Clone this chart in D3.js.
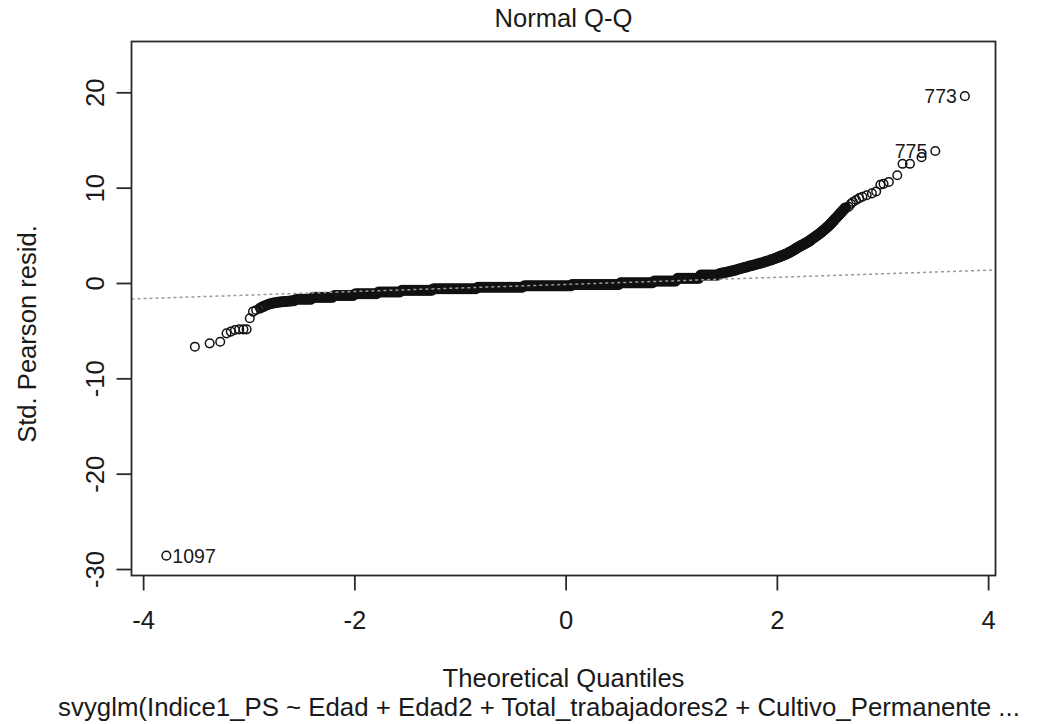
<!DOCTYPE html>
<html>
<head>
<meta charset="utf-8">
<script src="https://cdn.jsdelivr.net/npm/d3@7"></script>
<style>
  body { margin: 0; background: #fff; }
  text { font-family: "Liberation Sans", Arial, sans-serif; fill: #1a1a1a; }
</style>
</head>
<body>
<div id="chart"></div>
<script>
var width = 1049;
var height = 724;

// axis ticks
var xTicks = [-4, -2, 0, 2, 4];
var yTicks = [-30, -20, -10, 0, 10, 20];

// [theoretical quantile, std. pearson residual]
var lowerTail = [
  [-3.78, -28.6], [-3.51, -6.68], [-3.37, -6.33], [-3.27, -6.16], [-3.21, -5.28],
  [-3.17, -5.10], [-3.13, -4.93], [-3.09, -4.86], [-3.05, -4.86], [-3.02, -4.86],
  [-2.99, -3.70], [-2.96, -3.00], [-2.93, -2.83]
];

// the dense part, where the circles merge into a solid band
var band = [
  [-2.89, -2.62], [-2.87, -2.50], [-2.85, -2.40], [-2.83, -2.30], [-2.81, -2.22], [-2.79, -2.16],
  [-2.77, -2.11], [-2.75, -2.07], [-2.73, -2.03], [-2.71, -2.00], [-2.69, -1.97], [-2.67, -1.95],
  [-2.65, -1.93], [-2.63, -1.91], [-2.61, -1.89], [-2.59, -1.87], [-2.57, -1.85],
  [-2.55, -1.70], [-2.53, -1.70], [-2.51, -1.70], [-2.49, -1.70], [-2.47, -1.70], [-2.45, -1.70],
  [-2.43, -1.70], [-2.41, -1.70],
  [-2.39, -1.50], [-2.37, -1.50], [-2.35, -1.50], [-2.33, -1.50], [-2.31, -1.50], [-2.29, -1.50],
  [-2.27, -1.50], [-2.25, -1.50], [-2.23, -1.50], [-2.21, -1.50],
  [-2.19, -1.30], [-2.17, -1.30], [-2.15, -1.30], [-2.13, -1.30], [-2.11, -1.30], [-2.09, -1.30],
  [-2.07, -1.30], [-2.05, -1.30], [-2.03, -1.30], [-2.01, -1.30],
  [-1.99, -1.12], [-1.97, -1.12], [-1.95, -1.12], [-1.93, -1.12], [-1.91, -1.12], [-1.89, -1.12],
  [-1.87, -1.12], [-1.85, -1.12], [-1.83, -1.12], [-1.81, -1.12], [-1.79, -1.12],
  [-1.77, -0.94], [-1.75, -0.94], [-1.73, -0.94], [-1.71, -0.94], [-1.69, -0.94], [-1.67, -0.94],
  [-1.65, -0.94], [-1.63, -0.94], [-1.61, -0.94], [-1.59, -0.94], [-1.57, -0.94],
  [-1.55, -0.77], [-1.53, -0.77], [-1.51, -0.77], [-1.49, -0.77], [-1.47, -0.77], [-1.45, -0.77],
  [-1.43, -0.77], [-1.41, -0.77], [-1.39, -0.77], [-1.37, -0.77], [-1.35, -0.77], [-1.33, -0.77],
  [-1.31, -0.77], [-1.29, -0.77], [-1.27, -0.77],
  [-1.25, -0.60], [-1.23, -0.60], [-1.21, -0.60], [-1.19, -0.60], [-1.17, -0.60], [-1.15, -0.60],
  [-1.13, -0.60], [-1.11, -0.60], [-1.09, -0.60], [-1.07, -0.60], [-1.05, -0.60], [-1.03, -0.60],
  [-1.01, -0.60], [-0.99, -0.60], [-0.97, -0.60], [-0.95, -0.60], [-0.93, -0.60], [-0.91, -0.60],
  [-0.89, -0.60], [-0.87, -0.60], [-0.85, -0.60],
  [-0.83, -0.44], [-0.81, -0.44], [-0.79, -0.44], [-0.77, -0.44], [-0.75, -0.44], [-0.73, -0.44],
  [-0.71, -0.44], [-0.69, -0.44], [-0.67, -0.44], [-0.65, -0.44], [-0.63, -0.44], [-0.61, -0.44],
  [-0.59, -0.44], [-0.57, -0.44], [-0.55, -0.44], [-0.53, -0.44], [-0.51, -0.44], [-0.49, -0.44],
  [-0.47, -0.44], [-0.45, -0.44], [-0.43, -0.44], [-0.41, -0.44],
  [-0.39, -0.30], [-0.37, -0.30], [-0.35, -0.30], [-0.33, -0.30], [-0.31, -0.30], [-0.29, -0.30],
  [-0.27, -0.30], [-0.25, -0.30], [-0.23, -0.30], [-0.21, -0.30], [-0.19, -0.30], [-0.17, -0.30],
  [-0.15, -0.30], [-0.13, -0.30], [-0.11, -0.30], [-0.09, -0.30], [-0.07, -0.30], [-0.05, -0.30],
  [-0.03, -0.30], [-0.01, -0.30], [0.01, -0.30], [0.03, -0.30], [0.05, -0.30],
  [0.06, -0.17], [0.08, -0.17], [0.10, -0.17], [0.12, -0.17], [0.14, -0.17], [0.16, -0.17],
  [0.18, -0.17], [0.20, -0.17], [0.22, -0.17], [0.24, -0.17], [0.26, -0.17], [0.28, -0.17],
  [0.30, -0.17], [0.32, -0.17], [0.34, -0.17], [0.36, -0.17], [0.38, -0.17], [0.40, -0.17],
  [0.42, -0.17], [0.44, -0.17], [0.46, -0.17], [0.48, -0.17], [0.50, -0.17],
  [0.52, 0.02], [0.54, 0.02], [0.56, 0.02], [0.58, 0.02], [0.60, 0.02], [0.62, 0.02],
  [0.64, 0.02], [0.66, 0.02], [0.68, 0.02], [0.70, 0.02], [0.72, 0.02], [0.74, 0.02],
  [0.76, 0.02], [0.78, 0.02], [0.80, 0.02], [0.82, 0.02],
  [0.84, 0.21], [0.86, 0.21], [0.88, 0.21], [0.90, 0.21], [0.92, 0.21], [0.94, 0.21],
  [0.96, 0.21], [0.98, 0.21], [1.00, 0.21], [1.02, 0.21], [1.04, 0.21],
  [1.06, 0.49], [1.08, 0.49], [1.10, 0.49], [1.12, 0.49], [1.14, 0.49], [1.16, 0.49],
  [1.18, 0.49], [1.20, 0.49], [1.22, 0.49], [1.24, 0.49], [1.26, 0.49],
  [1.28, 0.84], [1.30, 0.84], [1.32, 0.84], [1.34, 0.84], [1.36, 0.84], [1.38, 0.84],
  [1.40, 0.84], [1.42, 0.84], [1.44, 0.84],
  [1.46, 1.00], [1.48, 1.04], [1.50, 1.08], [1.52, 1.13], [1.54, 1.18], [1.56, 1.22],
  [1.58, 1.28], [1.60, 1.33], [1.62, 1.40], [1.64, 1.47], [1.66, 1.53], [1.68, 1.59],
  [1.70, 1.65], [1.72, 1.71], [1.74, 1.77], [1.76, 1.83], [1.78, 1.89], [1.80, 1.95],
  [1.82, 2.01], [1.84, 2.07], [1.86, 2.13], [1.88, 2.20], [1.90, 2.27], [1.92, 2.34],
  [1.94, 2.41], [1.96, 2.49], [1.98, 2.57],
  [2.00, 2.65], [2.01, 2.69], [2.02, 2.74], [2.03, 2.79], [2.04, 2.83], [2.05, 2.88],
  [2.06, 2.92], [2.07, 2.97], [2.08, 3.01], [2.09, 3.05], [2.10, 3.10], [2.11, 3.16],
  [2.12, 3.22], [2.13, 3.28], [2.14, 3.34], [2.15, 3.40], [2.16, 3.47], [2.17, 3.54],
  [2.18, 3.61], [2.19, 3.68], [2.20, 3.75], [2.21, 3.81], [2.22, 3.87], [2.23, 3.93],
  [2.24, 3.99], [2.25, 4.05], [2.26, 4.11], [2.27, 4.17], [2.28, 4.23], [2.29, 4.29],
  [2.30, 4.35], [2.31, 4.43], [2.32, 4.51], [2.33, 4.59], [2.34, 4.67], [2.35, 4.75],
  [2.36, 4.83], [2.37, 4.91], [2.38, 4.99], [2.39, 5.07], [2.40, 5.15], [2.41, 5.24],
  [2.42, 5.33], [2.43, 5.42], [2.44, 5.51], [2.45, 5.60], [2.46, 5.70], [2.47, 5.80],
  [2.48, 5.90], [2.49, 6.00], [2.50, 6.10], [2.51, 6.22], [2.52, 6.34], [2.53, 6.46],
  [2.54, 6.58], [2.55, 6.70], [2.56, 6.82], [2.57, 6.94], [2.58, 7.06], [2.59, 7.18],
  [2.60, 7.30], [2.61, 7.42], [2.62, 7.54], [2.63, 7.66], [2.64, 7.78], [2.65, 7.90]
];

var upperTail = [
  [2.68, 8.00], [2.70, 8.30], [2.72, 8.50], [2.75, 8.70], [2.78, 8.90], [2.81, 9.05],
  [2.85, 9.20], [2.90, 9.40], [2.94, 9.60], [2.98, 10.3], [3.01, 10.4], [3.06, 10.6],
  [3.14, 11.3], [3.19, 12.5], [3.26, 12.5], [3.37, 13.2], [3.50, 13.85], [3.78, 19.6]
];

// identified observations
var idLabels = ["1097", "775", "773"];
var idQuantiles = [-3.78, 3.50, 3.78];
var idResiduals = [-28.6, 13.85, 19.6];

// reference line through the quartiles
var qqIntercept = -0.15;
var qqSlope = 0.372;

var box = { left: 131.5, right: 995.5, top: 41.5, bottom: 575.5 };

var xScale = d3.scaleLinear().domain([-4.11, 4.07]).range([box.left, box.right]);
var yScale = d3.scaleLinear().domain([-30.68, 25.33]).range([box.bottom, box.top]);

var svg = d3.select("#chart")
    .append("svg")
    .attr("width", width)
    .attr("height", height)
    .style("display", "block");

svg.append("rect").attr("width", width).attr("height", height).attr("fill", "#fff");

svg.append("clipPath").attr("id", "plot-clip")
    .append("rect")
    .attr("x", box.left).attr("y", box.top)
    .attr("width", box.right - box.left).attr("height", box.bottom - box.top);

var pointsG = svg.append("g").attr("clip-path", "url(#plot-clip)");

function drawPoints(data, strokeWidth) {
    pointsG.append("g")
        .selectAll("circle")
        .data(data)
        .enter()
        .append("circle")
        .attr("cx", function(d) { return xScale(d[0]); })
        .attr("cy", function(d) { return yScale(d[1]); })
        .attr("r", 4.3)
        .attr("fill", "none")
        .attr("stroke", "#111")
        .attr("stroke-width", strokeWidth);
}

// the band holds thousands of overlapping circles in the original, a heavier
// outline keeps it solid with fewer of them
drawPoints(band, 2.4);
drawPoints(lowerTail, 1.5);
drawPoints(upperTail, 1.5);

// qq line, dotted grey, drawn over the points
var xDom = xScale.domain();
svg.append("line")
    .attr("clip-path", "url(#plot-clip)")
    .attr("x1", xScale(xDom[0]))
    .attr("y1", yScale(qqIntercept + qqSlope * xDom[0]))
    .attr("x2", xScale(xDom[1]))
    .attr("y2", yScale(qqIntercept + qqSlope * xDom[1]))
    .attr("stroke", "#999")
    .attr("stroke-width", 1.5)
    .attr("stroke-dasharray", "3,3");

// labels of identified points
svg.append("g").selectAll("text")
    .data(idLabels)
    .enter()
    .append("text")
    .attr("x", function(d, i) {
        var cx = xScale(idQuantiles[i]);
        return idQuantiles[i] < 0 ? cx + 6 : cx - 8;
    })
    .attr("y", function(d, i) { return yScale(idResiduals[i]); })
    .attr("dy", "0.36em")
    .attr("text-anchor", function(d, i) { return idQuantiles[i] < 0 ? "start" : "end"; })
    .style("font-size", "19.5px")
    .text(function(d) { return d; });

// box
svg.append("rect")
    .attr("x", box.left).attr("y", box.top)
    .attr("width", box.right - box.left).attr("height", box.bottom - box.top)
    .attr("fill", "none")
    .attr("stroke", "#2a2a2a")
    .attr("stroke-width", 1.8);

// axes
var xAxis = d3.axisBottom(xScale).tickValues(xTicks).tickSize(15).tickSizeOuter(0)
    .tickFormat(function(d) { return String(d); });
var yAxis = d3.axisLeft(yScale).tickValues(yTicks).tickSize(15).tickSizeOuter(0)
    .tickFormat(function(d) { return String(d); });

var xAxisG = svg.append("g")
    .attr("transform", "translate(0," + box.bottom + ")")
    .call(xAxis);
xAxisG.select(".domain").remove();
xAxisG.selectAll(".tick line").attr("stroke", "#2a2a2a").attr("stroke-width", 1.8);
xAxisG.selectAll(".tick text")
    .attr("y", 53.5)
    .attr("dy", null)
    .attr("fill", "#1a1a1a")
    .style("font-size", "25.6px")
    .style("font-family", "'Liberation Sans', Arial, sans-serif");

var yAxisG = svg.append("g")
    .attr("transform", "translate(" + box.left + ",0)")
    .call(yAxis);
yAxisG.select(".domain").remove();
yAxisG.selectAll(".tick line").attr("stroke", "#2a2a2a").attr("stroke-width", 1.8);
yAxisG.selectAll(".tick text")
    .attr("transform", "rotate(-90)")
    .attr("x", 0)
    .attr("y", -27.5)
    .attr("dy", null)
    .attr("text-anchor", "middle")
    .attr("fill", "#1a1a1a")
    .style("font-size", "25.6px")
    .style("font-family", "'Liberation Sans', Arial, sans-serif");

// titles
svg.append("text")
    .attr("x", (box.left + box.right) / 2)
    .attr("y", 27)
    .attr("text-anchor", "middle")
    .style("font-size", "25.6px")
    .text("Normal Q-Q");

svg.append("text")
    .attr("x", (box.left + box.right) / 2)
    .attr("y", 687)
    .attr("text-anchor", "middle")
    .style("font-size", "25.6px")
    .text("Theoretical Quantiles");

svg.append("text")
    .attr("x", 539)
    .attr("y", 716)
    .attr("text-anchor", "middle")
    .style("font-size", "25.8px")
    .text("svyglm(Indice1_PS ~ Edad + Edad2 + Total_trabajadores2 + Cultivo_Permanente ...");

svg.append("text")
    .attr("transform", "translate(36,334) rotate(-90)")
    .attr("text-anchor", "middle")
    .style("font-size", "25.6px")
    .text("Std. Pearson resid.");
</script>
</body>
</html>
